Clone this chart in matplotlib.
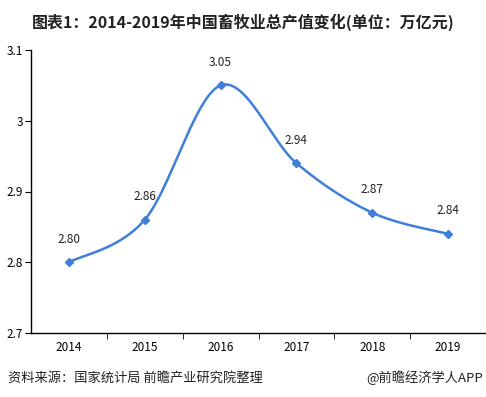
import matplotlib.pyplot as plt
import numpy as np

plt.rcParams['font.family'] = ['Noto Sans CJK SC', 'DejaVu Sans']

# 数据
years = ['2014', '2015', '2016', '2017', '2018', '2019']
values = [2.80, 2.86, 3.05, 2.94, 2.87, 2.84]
labels = ['2.80', '2.86', '3.05', '2.94', '2.87', '2.84']
yticks = [2.7, 2.8, 2.9, 3.0, 3.1]
ytick_labels = ['2.7', '2.8', '2.9', '3', '3.1']


def smooth(xs, ys, n=40):
    # Catmull-Rom 曲线
    xs = np.asarray(xs, float)
    ys = np.asarray(ys, float)
    px = np.concatenate([[xs[0]], xs, [xs[-1]]])
    py = np.concatenate([[ys[0]], ys, [ys[-1]]])
    ox, oy = [], []
    for i in range(1, len(px) - 2):
        t = np.linspace(0, 1, n)
        p0, p1, p2, p3 = [np.array([px[j], py[j]]) for j in range(i - 1, i + 3)]
        for tt in t:
            pt = 0.5 * ((2 * p1) + (-p0 + p2) * tt
                        + (2 * p0 - 5 * p1 + 4 * p2 - p3) * tt ** 2
                        + (-p0 + 3 * p1 - 3 * p2 + p3) * tt ** 3)
            ox.append(pt[0])
            oy.append(pt[1])
    return ox, oy


fig = plt.figure(figsize=(4.86, 3.97), dpi=100)
ax = fig.add_axes([31 / 486, 1 - 333 / 397, 455 / 486, 283 / 397])

x = np.arange(len(years))
sx, sy = smooth(x, values)
color = '#3f7fd9'
ax.plot(sx, sy, color=color, lw=1.8)
ax.plot(x, values, 'D', color=color, ms=4.5, ls='none')

for xi, v, lab in zip(x, values, labels):
    ax.annotate(lab, (xi, v), xytext=(0, 12), textcoords='offset points',
                ha='center', va='bottom', fontsize=8.5, color='#222222')

ax.set_xlim(-0.5, len(years) - 0.5)
ax.set_ylim(2.7, 3.1)
ax.set_yticks(yticks)
ax.set_yticklabels(ytick_labels, fontsize=8.5)
ax.set_xticks(x)
ax.set_xticklabels(years, fontsize=8.5)
ax.set_xticks(np.arange(0.5, len(years) - 0.5, 1), minor=True)
ax.tick_params(axis='x', which='major', length=0, pad=6)
ax.tick_params(axis='x', which='minor', length=4, direction='out')
ax.tick_params(axis='y', length=4, direction='out', pad=2)
for s in ['top', 'right']:
    ax.spines[s].set_visible(False)
ax.spines['left'].set_linewidth(1)
ax.spines['bottom'].set_linewidth(1)

fig.text(0.5, 1 - 22 / 397, '图表1：2014-2019年中国畜牧业总产值变化(单位：万亿元)',
         ha='center', va='center', fontsize=11.5, fontweight='bold', color='#222222')
fig.text(8 / 486, 1 - 378 / 397, '资料来源：国家统计局 前瞻产业研究院整理',
         ha='left', va='center', fontsize=9.5, color='#222222')
fig.text(483 / 486, 1 - 378 / 397, '@前瞻经济学人APP',
         ha='right', va='center', fontsize=9.5, color='#222222')

fig.savefig('out.png', dpi=100)
